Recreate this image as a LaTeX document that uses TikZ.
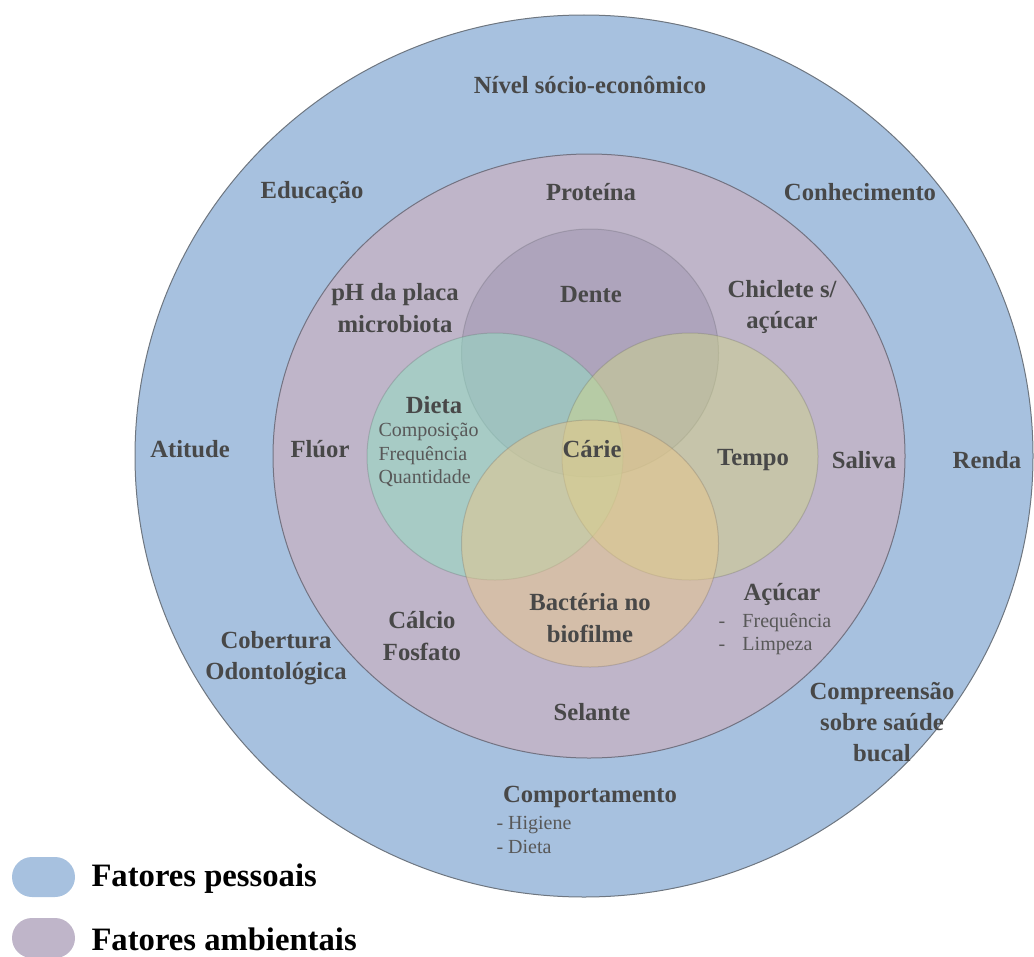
\documentclass[tikz,border=0pt]{standalone}
\usepackage{fontspec}
\setmainfont{Liberation Serif}

\tikzset{every picture/.style={line width=0.75pt}}
\tikzset{
  lbl/.style={inner sep=0.75pt, align=center, text={rgb, 255:red, 72; green, 72; blue, 72 }, font=\bfseries\fontsize{18.5}{23.5}\selectfont},
  sublbl/.style={inner sep=0.75pt, align=left, anchor=west, text={rgb, 255:red, 88; green, 88; blue, 88 }, font=\fontsize{15}{17.5}\selectfont},
  legtxt/.style={inner sep=0.75pt, anchor=west, font=\bfseries\fontsize{24.5}{28}\selectfont},
}

\begin{document}
\begin{tikzpicture}[x=0.75pt,y=0.75pt,yscale=-1,xscale=1]
		\useasboundingbox (0,0) rectangle (1034,956);

		%outer ring: personal factors
		\draw  [color={rgb, 255:red, 110; green, 118; blue, 128 }  ,draw opacity=1 ][fill={rgb, 255:red, 167; green, 193; blue, 223 }  ,fill opacity=1 ] (135,456) .. controls (135,212.4) and (336,15) .. (584,15) .. controls (832,15) and (1033,212.4) .. (1033,456) .. controls (1033,699.6) and (832,897) .. (584,897) .. controls (336,897) and (135,699.6) .. (135,456) -- cycle ;
		%middle ring: environmental factors
		\draw  [color={rgb, 255:red, 115; green, 115; blue, 130 }  ,draw opacity=1 ][fill={rgb, 255:red, 191; green, 181; blue, 201 }  ,fill opacity=1 ] (273,456) .. controls (273,289.2) and (414.5,154) .. (589,154) .. controls (763.5,154) and (905,289.2) .. (905,456) .. controls (905,622.8) and (763.5,758) .. (589,758) .. controls (414.5,758) and (273,622.8) .. (273,456) -- cycle ;
		%venn
		\draw  [color={rgb, 255:red, 100; green, 100; blue, 110 }  ,draw opacity=0.3 ][fill={rgb, 255:red, 150; green, 140; blue, 170 }  ,fill opacity=0.4 ] (461.5,353) .. controls (461.5,284.5) and (519,229) .. (590,229) .. controls (661,229) and (718.5,284.5) .. (718.5,353) .. controls (718.5,421.5) and (661,477) .. (590,477) .. controls (519,477) and (461.5,421.5) .. (461.5,353) -- cycle ;
		\draw  [color={rgb, 255:red, 100; green, 110; blue, 110 }  ,draw opacity=0.3 ][fill={rgb, 255:red, 145; green, 225; blue, 195 }  ,fill opacity=0.5 ] (367,456.5) .. controls (367,388.3) and (424.3,333) .. (495,333) .. controls (565.7,333) and (623,388.3) .. (623,456.5) .. controls (623,524.7) and (565.7,580) .. (495,580) .. controls (424.3,580) and (367,524.7) .. (367,456.5) -- cycle ;
		\draw  [color={rgb, 255:red, 110; green, 110; blue, 100 }  ,draw opacity=0.3 ][fill={rgb, 255:red, 205; green, 212; blue, 140 }  ,fill opacity=0.5 ] (562,456.5) .. controls (562,388.3) and (619.3,333) .. (690,333) .. controls (760.7,333) and (818,388.3) .. (818,456.5) .. controls (818,524.7) and (760.7,580) .. (690,580) .. controls (619.3,580) and (562,524.7) .. (562,456.5) -- cycle ;
		\draw  [color={rgb, 255:red, 120; green, 110; blue, 100 }  ,draw opacity=0.3 ][fill={rgb, 255:red, 233; green, 199; blue, 139 }  ,fill opacity=0.5 ] (461.5,543.5) .. controls (461.5,475.3) and (519,420) .. (590,420) .. controls (661,420) and (718.5,475.3) .. (718.5,543.5) .. controls (718.5,611.7) and (661,667) .. (590,667) .. controls (519,667) and (461.5,611.7) .. (461.5,543.5) -- cycle ;
		%legend
		\draw  [draw opacity=0][fill={rgb, 255:red, 167; green, 193; blue, 223 }  ,fill opacity=1 ][rounded corners=15pt] (12,857) rectangle (75,897) ;
		\draw  [draw opacity=0][fill={rgb, 255:red, 191; green, 181; blue, 201 }  ,fill opacity=1 ][rounded corners=15pt] (12,918) rectangle (75,958) ;

		\draw (590,85) node [lbl] (nivel) {Nível sócio-econômico};
		\draw (312,192) node [lbl] (educacao) {Educação};
		\draw (591,192) node [lbl] (proteina) {Proteína};
		\draw (860,192) node [lbl] (conhecimento) {Conhecimento};
		\draw (395,308) node [lbl] (ph) {pH da placa\\microbiota};
		\draw (591,295) node [lbl] (dente) {Dente};
		\draw (782,307) node [lbl] (chiclete) {Chiclete s/\\açúcar};
		\draw (434,405) node [lbl] (dieta) {Dieta};
		\draw (377,455) node [sublbl] (dietalist) {Composição\\Frequência\\Quantidade};
		\draw (190,449) node [lbl] (atitude) {Atitude};
		\draw (320,449) node [lbl] (fluor) {Flúor};
		\draw (592,449) node [lbl] (carie) {Cárie};
		\draw (753,460) node [lbl] (tempo) {Tempo};
		\draw (864,460) node [lbl] (saliva) {Saliva};
		\draw (987,460) node [lbl] (renda) {Renda};
		\draw (590,618) node [lbl] (bacteria) {Bactéria no\\biofilme};
		\draw (782,594) node [lbl] (acucar) {Açúcar};
		\draw (717,634) node [sublbl] (acucarlist) {-\hspace{13pt}Frequência\\-\hspace{13pt}Limpeza};
		\draw (422,636) node [lbl] (calcio) {Cálcio\\Fosfato};
		\draw (276,658) node [lbl] (cobertura) {Cobertura\\Odontológica};
		\draw (592,712) node [lbl] (selante) {Selante};
		\draw (882,722) node [lbl] (compreensao) {Compreensão\\sobre saúde\\bucal};
		\draw (590,797) node [lbl] (comportamento) {Comportamento};
		\draw (495,835) node [sublbl] (comportlist) {- Higiene\\- Dieta};
		\draw (90,879) node [legtxt] (pessoais) {Fatores pessoais};
		\draw (90,939) node [legtxt] (ambientais) {Fatores ambientais};
\end{tikzpicture}
\end{document}
